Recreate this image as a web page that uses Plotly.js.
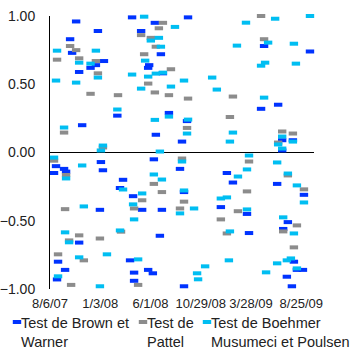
<!DOCTYPE html>
<html>
<head>
<meta charset="utf-8">
<script src="https://cdn.plot.ly/plotly-3.0.1.min.js"></script>
<style>html,body{margin:0;padding:0;background:#fff;}#chart{width:354px;height:354px;}</style>
</head>
<body>
<div id="chart"></div>
<script>
const seriesNames = ["Test de Brown et<br>Warner", "Test de<br>Pattel", "Test de Boehmer<br>Musumeci et Poulsen"];
const tickDates = ["2007-08-06", "2008-01-03", "2008-06-01", "2008-10-29", "2009-03-28", "2009-08-25"];
const tickLabels = ["8/6/07", "1/3/08", "6/1/08", "10/29/08", "3/28/09", "8/25/09"];

const brownDates = ["2007-10-23","2007-10-05","2007-12-27","2007-10-11","2008-01-14","2007-12-21","2007-12-05","2007-11-01","2008-02-23","2008-04-07",
"2008-09-21","2008-06-14","2008-05-04","2008-07-02","2008-05-28","2008-05-25","2008-07-08","2008-07-26","2009-05-06","2009-09-20",
"2009-06-17","2009-04-27","2007-11-10","2007-08-24","2007-09-17","2007-09-23","2007-08-18","2008-01-05","2008-01-11","2008-03-02",
"2008-01-02","2008-09-18","2008-06-17","2008-09-03","2008-06-11","2008-08-28","2009-01-15","2008-03-11","2008-09-09","2008-04-10",
"2008-05-07","2008-07-05","2008-12-28","2009-06-29","2009-07-31","2009-06-29","2009-02-02","2009-06-14","2009-09-02","2007-11-01",
"2007-08-30","2007-09-20","2007-08-27","2008-06-29","2008-04-01","2008-05-25","2008-06-08","2008-04-13","2008-04-13","2008-09-09",
"2009-03-16","2009-07-16","2009-07-02","2009-03-22","2009-08-03","2009-08-12","2009-08-30","2009-07-13","2009-07-28"];
const brownValues = [0.96,0.83,0.89,0.73,0.67,0.64,0.62,0.59,0.27,0.99,
0.99,0.95,0.89,0.72,0.64,0.62,0.58,0.29,0.78,0.74,
0.35,0.32,0.20,-0.10,-0.12,-0.14,-0.15,-0.07,-0.13,-0.26,
-0.42,0.23,0.13,0.08,-0.05,-0.12,-0.15,-0.20,-0.29,-0.32,
-0.42,-0.42,-0.40,0.09,0.09,0.015,-0.22,-0.23,-0.31,-0.66,
-0.80,-0.86,-0.93,-0.61,-0.79,-0.86,-0.885,-0.88,-0.94,-0.98,
-0.45,-0.51,-0.56,-0.59,-0.80,-0.86,-0.86,-0.91,-0.98];

const patellDates = ["2007-10-05","2007-10-23","2007-08-27","2007-11-01","2007-12-21","2007-12-27","2007-12-05","2008-02-25","2008-07-08","2008-06-26",
"2008-05-04","2008-06-02","2008-06-17","2008-05-13","2008-08-01","2008-05-25","2008-06-14","2008-07-26","2008-09-21","2009-01-24",
"2009-04-27","2009-05-06","2009-02-02","2007-09-17","2008-01-11","2007-08-18","2007-09-23","2007-09-20","2008-09-18","2008-09-03",
"2008-06-11","2008-07-05","2008-05-07","2008-09-09","2008-04-13","2008-08-28","2009-06-29","2009-06-17","2009-07-31","2009-03-22",
"2009-07-16","2009-09-02","2009-03-16","2007-11-01","2007-10-02","2008-01-02","2007-08-30","2007-11-15","2007-10-08","2008-03-05",
"2008-12-28","2009-01-15","2008-04-25","2009-02-17","2009-08-12","2009-07-02","2009-08-03"];
const patellValues = [0.78,0.75,0.68,0.69,0.67,0.58,0.43,0.42,0.95,0.91,
0.86,0.84,0.775,0.72,0.61,0.505,0.44,0.42,0.395,0.26,
1.00,0.83,0.41,0.146,0.037,-0.06,-0.165,-0.415,0.18,-0.044,
-0.23,-0.29,-0.35,-0.36,-0.41,-0.41,0.154,0.073,0.139,-0.066,
-0.168,-0.27,-0.285,-0.607,-0.644,-0.63,-0.746,-0.79,-0.97,-0.58,
-0.49,-0.593,-0.97,-0.43,-0.534,-0.578,-0.695];

const bmpDates = ["2007-08-27","2007-12-21","2007-11-01","2007-12-05","2007-12-27","2007-08-24","2007-10-23","2008-02-23","2008-05-13","2008-08-13",
"2008-06-26","2008-06-02","2008-07-02","2008-05-16","2008-04-07","2008-06-17","2008-07-08","2008-05-25","2008-09-09","2008-12-02",
"2008-08-01","2008-05-04","2008-12-16","2008-07-26","2008-06-14","2008-09-21","2009-09-20","2009-06-08","2009-03-13","2009-05-18",
"2009-02-14","2009-08-03","2009-05-09","2009-04-27","2009-08-09","2009-05-06","2007-09-17","2008-01-11","2008-01-05","2007-08-18",
"2007-09-23","2007-11-10","2007-11-15","2008-09-18","2009-01-24","2008-06-29","2008-09-03","2008-06-11","2008-07-05","2008-03-11",
"2008-05-07","2008-09-09","2008-04-10","2008-12-28","2009-01-15","2008-10-09","2009-02-02","2009-06-29","2009-06-17","2009-07-31",
"2009-06-29","2009-03-22","2009-03-16","2009-06-14","2009-07-16","2009-02-17","2009-08-12","2009-09-02","2009-03-16","2007-09-20",
"2007-10-02","2008-03-02","2008-01-23","2007-11-01","2007-08-30","2008-01-02","2008-08-28","2008-04-13","2008-04-25","2008-11-11",
"2008-10-18","2008-10-21","2009-01-21","2009-01-24","2009-07-02","2009-08-03","2009-07-25","2009-07-13","2009-06-14","2009-08-12",
"2009-05-12"];
const bmpValues = [0.746,0.746,0.658,0.651,0.549,0.527,0.512,0.315,0.995,0.92,
0.84,0.82,0.775,0.673,0.571,0.578,0.585,0.556,0.527,0.549,
0.483,0.468,0.461,0.263,0.239,0.241,1.00,0.98,0.951,0.805,
0.783,0.797,0.658,0.636,0.651,0.402,0.183,0.051,0.015,-0.037,
-0.19,-0.095,-0.395,0.139,0.08,0.007,-0.066,-0.161,-0.198,-0.271,
-0.30,-0.278,-0.38,-0.337,-0.329,-0.41,0.146,0.117,0.059,0.08,
0.029,-0.022,-0.124,-0.073,-0.154,-0.176,-0.241,-0.366,-0.417,-0.585,
-0.658,-0.571,-0.746,-0.768,-0.907,-0.98,-0.446,-0.49,-0.783,-0.834,
-0.885,-0.929,-0.79,-0.578,-0.475,-0.593,-0.776,-0.79,-0.812,-0.849,
-0.878];

const colors = ["#0033ff", "#8c8c8c", "#00bef2"];
const allX = [brownDates, patellDates, bmpDates];
const allY = [brownValues, patellValues, bmpValues];
const legendIds = ["legend", "legend2", "legend3"];

const traces = allX.map((xs, i) => ({
  type: "scatter",
  mode: "markers",
  name: seriesNames[i],
  legend: legendIds[i],
  x: xs,
  y: allY[i],
  cliponaxis: false,
  marker: {symbol: "line-ew", size: 6, color: colors[i], line: {width: 4, color: colors[i]}}
}));

const legendBase = {orientation: "h", y: -0.063, xanchor: "left", yanchor: "top", bgcolor: "rgba(0,0,0,0)",
                    font: {size: 14.5, color: "#222"}, itemwidth: 30, valign: "top"};

const layout = {
  width: 354, height: 354,
  margin: {l: 50, r: 40, t: 16, b: 65, autoexpand: false},
  paper_bgcolor: "#ffffff", plot_bgcolor: "#ffffff",
  font: {family: "Liberation Sans, Arial, sans-serif", size: 13, color: "#222"},
  showlegend: true,
  legend: Object.assign({}, legendBase, {x: -0.2614}),
  legend2: Object.assign({}, legendBase, {x: 0.2159}),
  legend3: Object.assign({}, legendBase, {x: 0.4583}),
  xaxis: {type: "date", range: ["2007-08-06", "2009-10-02"], tickmode: "array", tickvals: tickDates, ticktext: tickLabels,
          tickangle: 0, showgrid: false, zeroline: false, showline: false, ticks: "", ticklabelstandoff: 5, tickfont: {size: 13}},
  yaxis: {range: [-1, 1], dtick: 0.5, tick0: -1, tickformat: ".2f", showgrid: false, zeroline: true, zerolinecolor: "#000",
          zerolinewidth: 1, showline: true, linecolor: "#000", linewidth: 1, ticks: "", ticklabelstandoff: 11, tickfont: {size: 14}}
};

Plotly.newPlot("chart", traces, layout, {displayModeBar: false, staticPlot: true}).then(function (gd) {
  // pull legend keys right next to their labels, as in the original
  gd.querySelectorAll(".legendpoints").forEach(function (g) { g.setAttribute("transform", "translate(16,0)"); });
});
</script>
</body>
</html>
